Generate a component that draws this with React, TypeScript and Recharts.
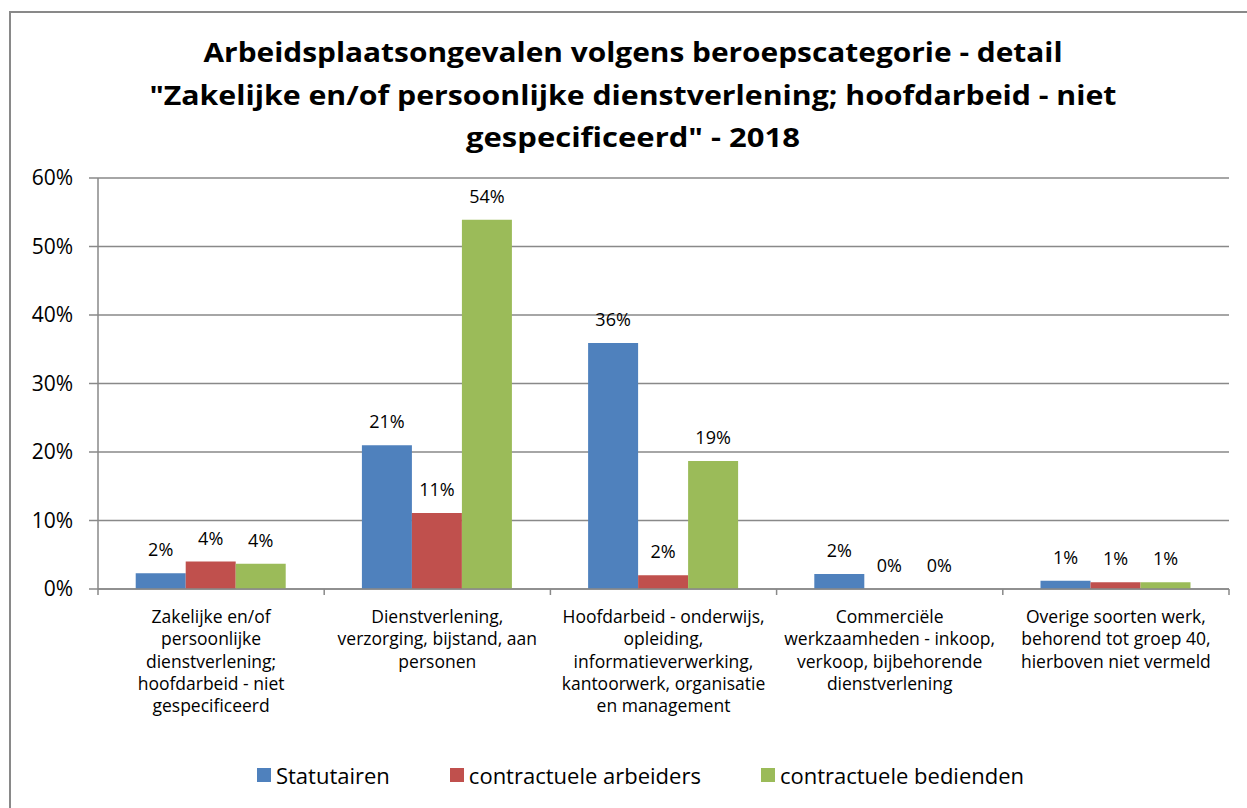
import React from 'react';
import { BarChart, Bar, XAxis, YAxis, CartesianGrid, LabelList, Legend } from 'recharts';

const categories = [
  'Zakelijke en/of persoonlijke dienstverlening; hoofdarbeid - niet gespecificeerd',
  'Dienstverlening, verzorging, bijstand, aan personen',
  'Hoofdarbeid - onderwijs, opleiding, informatieverwerking, kantoorwerk, organisatie en management',
  'Commerciële werkzaamheden - inkoop, verkoop, bijbehorende dienstverlening',
  'Overige soorten werk, behorend tot groep 40, hierboven niet vermeld',
];

const categoryLines = [
  ['Zakelijke en/of', 'persoonlijke', 'dienstverlening;', 'hoofdarbeid - niet', 'gespecificeerd'],
  ['Dienstverlening,', 'verzorging, bijstand, aan', 'personen'],
  ['Hoofdarbeid - onderwijs,', 'opleiding,', 'informatieverwerking,', 'kantoorwerk, organisatie', 'en management'],
  ['Commerciële', 'werkzaamheden - inkoop,', 'verkoop, bijbehorende', 'dienstverlening'],
  ['Overige soorten werk,', 'behorend tot groep 40,', 'hierboven niet vermeld'],
];

const statutairen = [2.3, 21.0, 35.9, 2.2, 1.2];
const contractueleArbeiders = [4.0, 11.1, 2.0, 0, 1.0];
const contractueleBedienden = [3.7, 53.9, 18.7, 0, 1.0];

const seriesNames = ['Statutairen', 'contractuele arbeiders', 'contractuele bedienden'];
const seriesKeys = ['statutairen', 'arbeiders', 'bedienden'];
const seriesColors = ['#4F81BD', '#C0504D', '#9BBB59'];

const yTicks = [0, 10, 20, 30, 40, 50, 60];

const titleLines = [
  'Arbeidsplaatsongevalen volgens beroepscategorie - detail',
  '"Zakelijke en/of persoonlijke dienstverlening; hoofdarbeid - niet',
  'gespecificeerd" - 2018',
];

const data = categories.map((name, i) => ({
  name,
  statutairen: statutairen[i],
  arbeiders: contractueleArbeiders[i],
  bedienden: contractueleBedienden[i],
}));

const FONT = '"Open Sans", "Noto Sans", sans-serif';
const AXIS = '#898989';

const CategoryTick = (props: any) => {
  const { x, y, payload, width } = props;
  const idx = categories.indexOf(payload.value);
  const lines = categoryLines[idx] || [];
  const half = payload.offset ? payload.offset : (width || 0) / categories.length / 2;
  return (
    <g>
      <line x1={x - half} x2={x - half} y1={y - 6} y2={y} stroke={AXIS} strokeWidth={1.5} />
      {idx === categories.length - 1 && (
        <line x1={x + half} x2={x + half} y1={y - 6} y2={y} stroke={AXIS} strokeWidth={1.5} />
      )}
      <text x={x} y={y + 28} textAnchor="middle" fontSize={17.5} fill="#000" fontFamily={FONT}>
        {lines.map((l, i) => (
          <tspan key={i} x={x} dy={i === 0 ? 0 : 22.3}>
            {l}
          </tspan>
        ))}
      </text>
    </g>
  );
};

const renderLegend = () => (
  <div
    style={{
      display: 'flex',
      justifyContent: 'center',
      alignItems: 'center',
      gap: 60,
      fontFamily: FONT,
      fontSize: 22,
      color: '#000',
      paddingLeft: 34,
    }}
  >
    {seriesNames.map((n, i) => (
      <div key={n} style={{ display: 'flex', alignItems: 'center' }}>
        <span style={{ display: 'inline-block', width: 14, height: 14, background: seriesColors[i], marginRight: 5 }} />
        <span>{n}</span>
      </div>
    ))}
  </div>
);

const zeroMin = (v: any) => (Number(v) === 0 ? 0.01 : 0);

export default function App() {
  return (
    <div style={{ position: 'absolute', left: 0, top: 0, width: 1247, height: 808, background: '#fff', overflow: 'hidden' }}>
      <div
        style={{
          position: 'absolute',
          left: 9,
          top: 11,
          right: 0,
          bottom: 0,
          borderTop: `2px solid ${AXIS}`,
          borderLeft: `2px solid ${AXIS}`,
        }}
      />
      <svg style={{ position: 'absolute', left: 0, top: 0 }} width={1247} height={170}>
        {titleLines.map((t, i) => (
          <text
            key={i}
            x={633}
            y={62 + i * 42.5}
            textAnchor="middle"
            fontFamily={FONT}
            fontWeight={700}
            fontSize={26}
            fill="#000"
            textLength={[859, 967, 334][i]}
            lengthAdjust="spacingAndGlyphs"
          >
            {t}
          </text>
        ))}
      </svg>
      <div style={{ position: 'absolute', left: 0, top: 0 }}>
        <BarChart
          width={1247}
          height={808}
          data={data}
          margin={{ top: 178, right: 18, bottom: 69, left: 28 }}
          barCategoryGap="16.67%"
          barGap={0}
        >
          <CartesianGrid vertical={false} stroke={AXIS} strokeWidth={1.5} />
          <XAxis
            dataKey="name"
            interval={0}
            height={150}
            tickLine={false}
            tickSize={6}
            tickMargin={0}
            axisLine={{ stroke: AXIS, strokeWidth: 1.5 }}
            tick={<CategoryTick />}
          />
          <YAxis
            width={70}
            domain={[0, 60]}
            ticks={yTicks}
            interval={0}
            tickFormatter={(v: number) => `${v}%`}
            tickSize={9}
            tickMargin={16}
            tickLine={{ stroke: AXIS, strokeWidth: 1.5 }}
            axisLine={{ stroke: AXIS, strokeWidth: 1.5 }}
            tick={{ fill: '#000', fontSize: 21, fontFamily: FONT }}
          />
          <Legend verticalAlign="middle" align="center" wrapperStyle={{ top: 760, left: 0, width: 1247 }} content={renderLegend} />
          {seriesKeys.map((k, i) => (
            <Bar
              key={k}
              dataKey={k}
              name={seriesNames[i]}
              fill={seriesColors[i]}
              isAnimationActive={false}
              minPointSize={zeroMin}
            >
              <LabelList
                dataKey={k}
                position="top"
                offset={17}
                formatter={(v: any) => `${Math.round(Number(v))}%`}
                fill="#000"
                fontSize={18}
                fontFamily={FONT}
              />
            </Bar>
          ))}
        </BarChart>
      </div>
    </div>
  );
}
